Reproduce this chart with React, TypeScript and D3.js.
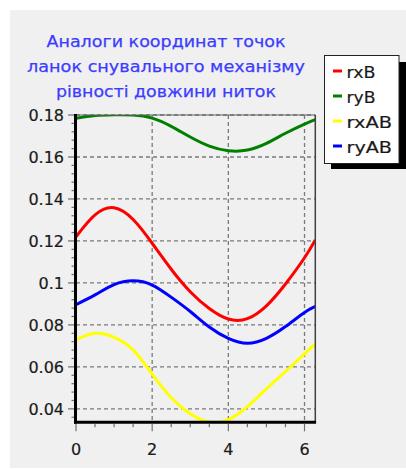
import React from 'react';
import * as d3 from 'd3';

// Crank angle samples (rad)
const angles = [0, 0.5, 1, 1.5, 2, 2.5, 3, 3.5, 4, 4.5, 5, 5.5, 6, 6.283];

// Position analogues of link points, one value per angle
const rxB = [0.122, 0.1324, 0.1358, 0.1302, 0.1189, 0.1065, 0.0958, 0.0878, 0.0828, 0.083, 0.0891, 0.0995, 0.112, 0.1205];
const ryB = [0.1784, 0.1797, 0.1801, 0.18, 0.1785, 0.1746, 0.1695, 0.1652, 0.163, 0.1633, 0.1665, 0.1713, 0.1757, 0.1778];
const rxAB = [0.0729, 0.076, 0.0741, 0.0681, 0.0565, 0.0453, 0.0377, 0.0337, 0.0349, 0.0411, 0.0495, 0.0578, 0.0662, 0.071];
const ryAB = [0.0897, 0.0943, 0.0992, 0.101, 0.099, 0.0932, 0.0864, 0.079, 0.0736, 0.0713, 0.0736, 0.0792, 0.0859, 0.0888];

const seriesNames = ['rxB', 'ryB', 'rxAB', 'ryAB'];
const seriesColors = ['#ff0000', '#008000', '#ffff00', '#0000ff'];
const seriesValues = [rxB, ryB, rxAB, ryAB];
// rendered widths of the legend captions
const legendWidths = [29, 29, 45.5, 45.5];

const yTickValues = [0.04, 0.06, 0.08, 0.1, 0.12, 0.14, 0.16, 0.18];
const yTickLabels = ['0.04', '0.06', '0.08', '0.1', '0.12', '0.14', '0.16', '0.18'];
const xTickValues = [0, 2, 4, 6];
const xTickLabels = ['0', '2', '4', '6'];

const titleLines = [
  'Аналоги координат точок',
  'ланок снувального механізму',
  'рівності довжини ниток',
];
const titleWidths = [239, 278, 220];

const W = 406;
const H = 470;
const FONT = '"DejaVu Sans", Verdana, sans-serif';

export default function App() {
  const left = 76;
  const right = 315.3;
  const top = 115;
  const bottom = 422.3;

  const x = d3.scaleLinear().domain([0, 2 * Math.PI]).range([left, right]);
  const y = d3.scaleLinear().domain([0.0336, 0.18]).range([bottom, top]);

  const line = d3
    .line<[number, number]>()
    .x((d) => x(d[0]))
    .y((d) => y(d[1]))
    .curve(d3.curveNatural);

  const yMinor = d3.range(0.036, 0.18, 0.004).filter(
    (v) => !yTickValues.some((t) => Math.abs(t - v) < 1e-6)
  );
  const xMinor = d3.range(0.5, 6.01, 0.5).filter((v) => v % 2 !== 0);

  return (
    <svg
      width={W}
      height={H}
      style={{ position: 'absolute', left: 0, top: 0, background: '#ffffff' }}
    >
      <defs>
        <clipPath id="plot-clip">
          <rect x={left} y={top} width={right - left} height={bottom - top} />
        </clipPath>
      </defs>
      <rect x={10} y={10} width={W - 10} height={458} fill="#f0f0f0" />

      {/* title */}
      <g fontFamily={FONT} fontSize={16} fill="#3c3cff" stroke="#3c3cff" strokeWidth={0.25} textAnchor="middle">
        {titleLines.map((t, i) => (
          <text
            key={i}
            x={166}
            y={46.5 + i * 25.3}
            textLength={titleWidths[i]}
            lengthAdjust="spacingAndGlyphs"
          >
            {t}
          </text>
        ))}
      </g>

      {/* grid */}
      <g stroke="#7a7a7a" strokeWidth={1.3} strokeDasharray="4,3">
        {yTickValues.map((v) => (
          <line key={'gy' + v} x1={left} x2={right} y1={y(v)} y2={y(v)} />
        ))}
        {xTickValues.filter((v) => v > 0).map((v) => (
          <line key={'gx' + v} x1={x(v)} x2={x(v)} y1={top} y2={bottom} />
        ))}
      </g>

      {/* curves */}
      <g clipPath="url(#plot-clip)" fill="none" strokeWidth={3} strokeLinejoin="round">
        {seriesValues.map((vals, i) => (
          <path
            key={seriesNames[i]}
            d={line(angles.map((a, j) => [a, vals[j]] as [number, number])) || ''}
            stroke={seriesColors[i]}
          />
        ))}
      </g>

      {/* frame */}
      <line x1={left} x2={right} y1={top} y2={top} stroke="#606060" strokeWidth={1} />
      <line x1={right} x2={right} y1={top} y2={bottom} stroke="#404040" strokeWidth={1.5} />
      <line x1={left - 0.5} x2={left - 0.5} y1={top - 1} y2={bottom + 1.5} stroke="#000" strokeWidth={3} />
      <line x1={left - 2} x2={right + 0.8} y1={bottom} y2={bottom} stroke="#000" strokeWidth={3} />

      {/* ticks */}
      <g stroke="#707070" strokeWidth={1.2}>
        {yTickValues.map((v) => (
          <line key={'ty' + v} x1={left - 8} x2={left - 2} y1={y(v)} y2={y(v)} />
        ))}
        {yMinor.map((v) => (
          <line key={'my' + v} x1={left - 4.5} x2={left - 2} y1={y(v)} y2={y(v)} />
        ))}
        {xTickValues.map((v) => (
          <line key={'tx' + v} x1={x(v)} x2={x(v)} y1={bottom + 1.5} y2={bottom + 9} />
        ))}
        {xMinor.map((v) => (
          <line key={'mx' + v} x1={x(v)} x2={x(v)} y1={bottom + 1.5} y2={bottom + 5} />
        ))}
      </g>

      {/* tick labels */}
      <g fontFamily={FONT} fontSize={16} fill="#1a1a1a" stroke="#1a1a1a" strokeWidth={0.2}>
        {yTickValues.map((v, i) => (
          <text key={'ly' + v} x={64} y={y(v) + 6} textAnchor="end">
            {yTickLabels[i]}
          </text>
        ))}
        {xTickValues.map((v, i) => (
          <text key={'lx' + v} x={x(v)} y={454.5} textAnchor="middle">
            {xTickLabels[i]}
          </text>
        ))}
      </g>

      {/* legend */}
      <rect x={331} y={62} width={75} height={107} fill="#000" />
      <rect x={324.5} y={55.5} width={74.5} height={108} fill="#fff" stroke="#222" strokeWidth={1} />
      <g fontFamily={FONT} fontSize={16} fill="#1a1a1a" stroke="#1a1a1a" strokeWidth={0.2}>
        {seriesNames.map((n, i) => (
          <g key={'lg' + n} transform={`translate(0, ${77.5 + i * 25})`}>
            <line x1={333} x2={342} y1={-6.5} y2={-6.5} stroke={seriesColors[i]} strokeWidth={3} />
            <text x={346.5} y={0} textLength={legendWidths[i]} lengthAdjust="spacingAndGlyphs">
              {n}
            </text>
          </g>
        ))}
      </g>
    </svg>
  );
}
